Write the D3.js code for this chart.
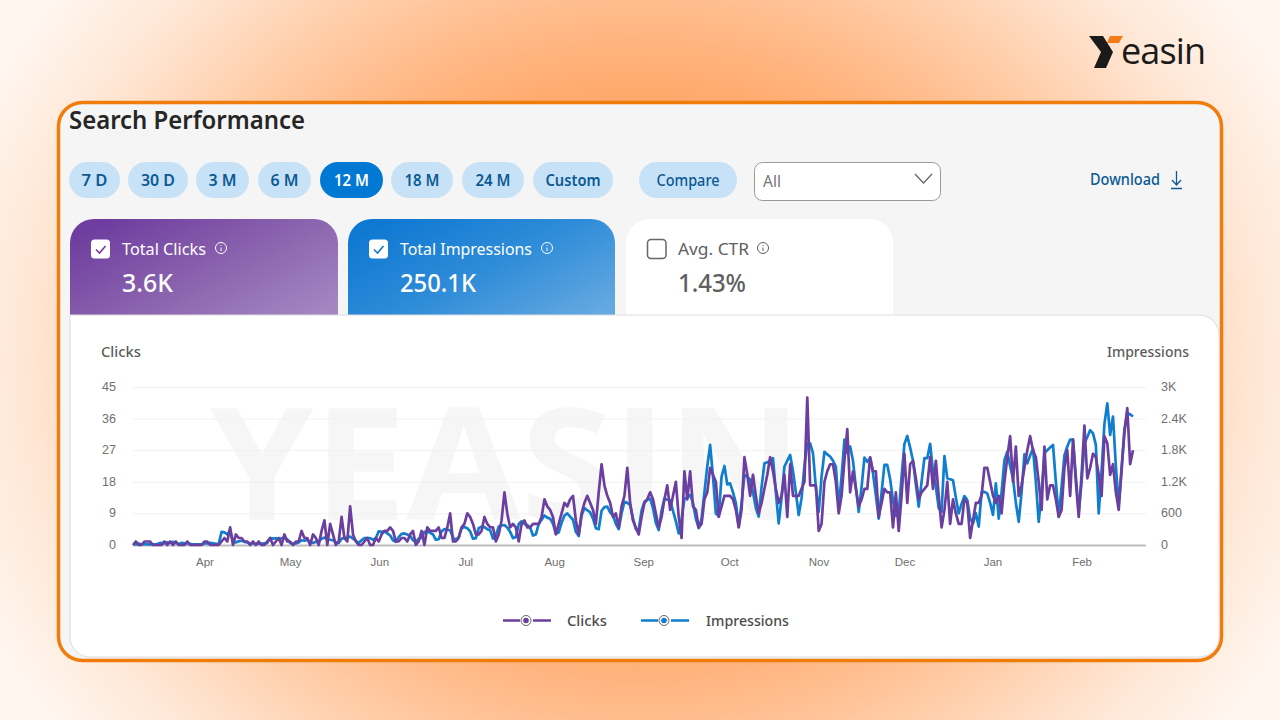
<!DOCTYPE html>
<html><head><meta charset="utf-8">
<script src="https://cdn.jsdelivr.net/npm/d3@7"></script>
<style>
html,body{margin:0;padding:0;width:1280px;height:720px;overflow:hidden;background:#fff}
svg{display:block}
text{font-family:"Noto Sans",sans-serif}
</style></head><body>
<script>
const monthLabels=["Apr","May","Jun","Jul","Aug","Sep","Oct","Nov","Dec","Jan","Feb"];
const monthPos=[25,55,86.2,116.3,147.4,178.6,208.7,239.9,270,300.8,332];
const clickTicks=[0,9,18,27,36,45];
const imprTicks=[0,600,1200,1800,2400,3000];
const imprTickLabels=["0","600","1.2K","1.8K","2.4K","3K"];
const rangeButtons=["7 D","30 D","3 M","6 M","12 M","18 M","24 M","Custom"];
const clicks=[
0,1,0,0,1,1,1,0,0,0, 0,1,0,1,0,1,0,0,0,1, 0,0,0,0,0,1,1,0,0,0, 0,1,2,1,5,0,3,2,2,1,
1,0,1,0,1,0,0,1,2,0, 1,2,0,3,1,1,0,1,1,4, 2,2,0,3,2,0,4,7,0,6, 3,0,1,8,2,1,11,3,1,0,
0,1,2,0,0,2,1,3,4,4, 5,4,1,1,2,2,1,3,4,0, 1,4,0,5,4,4,4,5,2,2, 5,9,1,1,2,5,6,9,8,6,
3,3,4,8,6,5,5,1,3,7, 15,9,5,6,5,1,6,7,5,5, 6,6,6,8,13,11,10,8,3,6, 9,12,11,13,14,7,3,9,12,14,
12,10,6,15,23,17,14,12,8,9, 5,11,14,22,12,7,5,3,8,12, 13,15,13,9,5,8,13,17,10,14, 18,8,2,21,13,21,11,10,5,6,
13,15,22,20,18,8,11,14,14,14, 13,10,5,10,25,20,14,20,14,9, 12,16,20,25,21,16,12,14,20,8, 23,14,14,14,16,18,42,17,17,17,
4,6,18,21,23,23,18,9,14,24, 33,15,21,16,11,13,16,16,25,21, 21,8,12,16,15,15,5,15,4,14, 26,12,23,24,19,13,15,16,17,25,
16,24,14,5,10,18,6,13,9,6, 6,13,12,2,7,12,12,14,22,22, 18,14,12,14,9,18,25,31,18,28, 14,17,22,27,31,27,25,18,10,28,
13,17,17,13,8,10,22,27,14,30, 18,8,20,34,19,22,26,25,20,14, 31,29,20,23,15,10,22,32,39,23, 27];
const impressions=[
20,10,30,10,20,10,10,10,10,30, 40,30,50,40,60,40,20,40,30,30, 20,10,10,10,10,30,30,40,30,20, 20,250,240,200,280,60,50,70,80,60,
50,30,30,20,30,20,30,40,130,120, 130,100,130,130,110,40,20,30,50,90, 80,100,50,40,60,60,120,140,110,100, 90,50,40,120,130,140,160,120,80,40,
90,130,130,130,100,130,260,250,260,220, 180,90,60,150,210,220,200,170,90,60, 120,140,250,260,230,200,100,110,260,300, 290,280,140,100,150,320,340,320,260,120,
130,320,350,340,300,280,120,180,350,370, 380,330,250,130,150,400,450,400,380,330, 180,200,400,480,560,520,500,400,220,240, 420,560,600,540,480,250,170,560,700,660,
620,500,320,300,650,720,730,620,560,400, 300,600,820,800,760,500,300,290,650,820, 860,880,700,420,285,650,880,860,850,650, 450,220,500,880,900,950,800,500,320,500,
1000,1500,1900,1300,600,550,1300,1500,1150,1170, 1000,800,350,800,1330,1300,1240,1000,700,540, 1100,1550,1570,1600,1650,1000,410,900,1490,1600, 1710,1400,1000,570,890,1500,1930,1930,1740,1100,
630,1300,1770,1720,1680,1600,1490,700,1300,2000, 1750,1870,1600,1100,630,1100,1660,1580,1650,1360, 950,500,1000,1520,1520,1250,850,550,600,1300, 1920,2070,1850,1600,1150,730,1200,1650,1650,1920,
1400,1110,700,630,1690,1270,1250,1230,900,600, 780,930,855,500,410,600,350,1000,1010,980, 800,570,1170,500,1000,1610,1770,1500,1260,800, 440,1000,1720,1550,1700,1830,1200,440,1000,1740,
1800,1850,1900,1200,540,1100,1700,1870,2000,2000, 1300,630,1200,1930,2050,2180,2120,1900,600,1400, 2300,2690,2090,2440,1500,760,1400,2200,2500,2480, 2440];

const svg=d3.select("body").append("svg").attr("width",1280).attr("height",720);
const defs=svg.append("defs");
function grad(id,stops,attrs){const g=defs.append(attrs.r?"radialGradient":"linearGradient").attr("id",id);
  Object.entries(attrs).forEach(([k,v])=>g.attr(k,v));
  stops.forEach(s=>g.append("stop").attr("offset",s[0]).attr("stop-color",s[1]));}
grad("bg",[[0,"#ff9040"],[0.43,"#ffa96c"],[0.58,"#ffbd8e"],[0.7,"#ffcfac"],[0.85,"#ffe6d4"],[1,"#fff6ef"]],{gradientUnits:"userSpaceOnUse",cx:0,cy:0,r:1,fx:0,fy:0,gradientTransform:"translate(640 360) scale(720 620)"});
grad("gp",[[0,"#6e3d9f"],[0.5,"#8a62ae"],[1,"#a586c2"]],{x1:"0%",y1:"20%",x2:"100%",y2:"90%"});
grad("gb",[[0,"#0e78d2"],[0.5,"#2f8cd8"],[1,"#65a9e1"]],{x1:"0%",y1:"20%",x2:"100%",y2:"90%"});

svg.append("rect").attr("width",1280).attr("height",720).attr("fill","url(#bg)");
// logo
svg.append("polygon").attr("points","1089,36 1103,36 1113,52 1106,68 1094,68 1101,52").attr("fill","#1a1a1a");
svg.append("polygon").attr("points","1110,36 1123,36 1119,43 1107,43").attr("fill","#f47b16");
svg.append("text").attr("x",1121).attr("y",64).attr("font-size",36).attr("font-weight",400).attr("textLength",85).attr("fill","#1a1a1a").style("font-family","'Open Sans'").text("easin");
// card
svg.append("rect").attr("x",58.5).attr("y",102.5).attr("width",1163).attr("height",558).attr("rx",24).attr("fill","#f5f5f5").attr("stroke","#f07c0c").attr("stroke-width",3.5);
svg.append("text").attr("x",69).attr("y",129).attr("font-size",25).attr("font-weight",600).attr("fill","#262626").attr("textLength",236).attr("lengthAdjust","spacingAndGlyphs").text("Search Performance");
// buttons
const btnX=[[69,120],[128,188],[196,249],[258,311],[320,383],[391,453],[462,524],[533,613]];
const btnTextW=[26,34,28,28,35,35,35,55];
rangeButtons.forEach((b,i)=>{const [a,e]=btnX[i],on=b==="12 M";
  svg.append("rect").attr("x",a).attr("y",162).attr("width",e-a).attr("height",36).attr("rx",18).attr("fill",on?"#0078d4":"#c7e2f7");
  svg.append("text").attr("x",(a+e)/2).attr("y",186).attr("text-anchor","middle").attr("font-size",15.5).attr("font-weight",600).attr("fill",on?"#fff":"#0b5a94").attr("textLength",btnTextW[i]).attr("lengthAdjust","spacingAndGlyphs").text(b);});
svg.append("rect").attr("x",639).attr("y",162).attr("width",98).attr("height",36).attr("rx",18).attr("fill","#c7e2f7");
svg.append("text").attr("x",688).attr("y",186).attr("text-anchor","middle").attr("font-size",15.500).attr("font-weight",500).attr("fill","#0b5a94").attr("textLength",63).attr("lengthAdjust","spacingAndGlyphs").text("Compare");
svg.append("rect").attr("x",754.5).attr("y",162.5).attr("width",186).attr("height",38).attr("rx",8).attr("fill","#fff").attr("stroke","#9a9a9a");
svg.append("text").attr("x",763).attr("y",187).attr("font-size",15.5).attr("fill","#777").text("All");
svg.append("path").attr("d","M915 174L923.500 183L932 174").attr("fill","none").attr("stroke","#666").attr("stroke-width",1.3);
svg.append("text").attr("x",1090).attr("y",185).attr("font-size",15.500).attr("font-weight",500).attr("fill","#0b5a94").attr("textLength",70).attr("lengthAdjust","spacingAndGlyphs").text("Download");
svg.append("path").attr("d","M1176.500 171V184M1172 180L1176.500 185L1181 180M1171 188.500H1182").attr("fill","none").attr("stroke","#0b5a94").attr("stroke-width",1.3);
// metric cards
function tab(x,w,fill){svg.append("path").attr("d",`M${x} 315V243a24 24 0 0 1 24-24H${x+w-24}a24 24 0 0 1 24 24V315Z`).attr("fill",fill);}
tab(70,268,"url(#gp)");tab(348,267,"url(#gb)");tab(626,267,"#fff");
const metricNames=["Total Clicks","Total Impressions","Avg. CTR"];
const metricValues=["3.6K","250.1K","1.43%"];
const nameW=[84,132,71],valueW=[51,76,68];
const mx=[91,369,647],ix=[221,547,763];
metricNames.forEach((n,i)=>{const col=i<2?"#fff":"#5f5f5f",x=mx[i];
  svg.append("rect").attr("x",i<2?x:x+.5).attr("y",239.5).attr("width",i<2?19:18.5).attr("height",19).attr("rx",3.5).attr("fill",i<2?"#fff":"none").attr("stroke",i<2?"none":"#666").attr("stroke-width",1.5);
  if(i<2)svg.append("path").attr("d",`M${x+5} ${249.5}l3.500 3.500l6-7`).attr("fill","none").attr("stroke",i?"#0e78d2":"#6e3d9f").attr("stroke-width",1.6);
  svg.append("text").attr("x",x+31).attr("y",254.500).attr("font-size",16.500).attr("fill",col).attr("textLength",nameW[i]).attr("lengthAdjust","spacingAndGlyphs").text(n);
  svg.append("text").attr("x",x+31).attr("y",291.500).attr("font-size",25).attr("font-weight",500).attr("fill",col).attr("textLength",valueW[i]).attr("lengthAdjust","spacingAndGlyphs").text(metricValues[i]);
  svg.append("circle").attr("cx",ix[i]).attr("cy",248).attr("r",5.500).attr("fill","none").attr("stroke",col).attr("stroke-width",1);
  svg.append("path").attr("d",`M${ix[i]} 247.500v3.500M${ix[i]} 245v1`).attr("stroke",col).attr("stroke-width",1);
});
// chart panel
svg.append("path").attr("d","M70 315H1199a20 20 0 0 1 20 20V637a20 20 0 0 1-20 20H90a20 20 0 0 1-20-20Z").attr("fill","#fff").attr("stroke","#dcdcdc");
svg.append("text").attr("x",101).attr("y",357).attr("font-size",14.500).attr("font-weight",500).attr("fill","#5c5c5c").attr("textLength",40).attr("lengthAdjust","spacingAndGlyphs").text("Clicks");
svg.append("text").attr("x",1189).attr("y",357).attr("text-anchor","end").attr("font-size",14.500).attr("font-weight",500).attr("fill","#5c5c5c").attr("textLength",82).attr("lengthAdjust","spacingAndGlyphs").text("Impressions");
svg.append("text").attr("x",506).attr("y",520).attr("text-anchor","middle").attr("font-size",157).attr("font-weight",700).attr("fill","#f6f6f7").attr("textLength",592).attr("lengthAdjust","spacingAndGlyphs").style("font-family","'Open Sans'").text("YEASIN");

const x=d3.scaleLinear().domain([0,350]).range([133,1133]);
const yL=d3.scaleLinear().domain([0,45]).range([545,387]);
const yR=d3.scaleLinear().domain([0,3000]).range([545,387]);
// gridlines
svg.append("g").selectAll("line").data(clickTicks.slice(1)).join("line")
  .attr("x1",133).attr("x2",1146).attr("y1",d=>yL(d)+.5).attr("y2",d=>yL(d)+.5).attr("stroke","#f1f1f1");
svg.append("line").attr("x1",133).attr("x2",1146).attr("y1",545.500).attr("y2",545.500).attr("stroke","#bdbdbd").attr("stroke-width",2);
function style(g,size){g.select(".domain").remove();g.selectAll(".tick line").remove();
  g.selectAll("text").style("font-family","'Liberation Sans',Arial,sans-serif").attr("font-size",size).attr("fill","#6f6f6f");}
svg.append("g").attr("transform","translate(116,-0.500)").call(d3.axisLeft(yL).tickValues(clickTicks).tickSize(0).tickPadding(0)).call(g=>style(g,12.500));
svg.append("g").attr("transform","translate(1161,-0.500)").call(d3.axisRight(yR).tickValues(imprTicks).tickSize(0).tickPadding(0).tickFormat((d,i)=>imprTickLabels[i])).call(g=>style(g,12.500));
svg.append("g").attr("transform","translate(0,557.500)").call(d3.axisBottom(x).tickValues(monthPos).tickSize(0).tickPadding(0).tickFormat((d,i)=>monthLabels[i])).call(g=>style(g,11.500));
// lines
const lineI=d3.line().x((d,i)=>x(i)).y(d=>yR(d)).curve(d3.curveLinear);
const lineC=d3.line().x((d,i)=>x(i)).y(d=>yL(d)).curve(d3.curveLinear);
svg.append("path").attr("d",lineI(impressions)).attr("fill","none").attr("stroke","#0f7ecf").attr("stroke-width",2.700).attr("stroke-linejoin","round");
svg.append("path").attr("d",lineC(clicks)).attr("fill","none").attr("stroke","#6b3fa0").attr("stroke-width",2.700).attr("stroke-linejoin","round");
// legend
[["Clicks",503,"#6b3fa0",40],["Impressions",641,"#0f7ecf",83]].forEach(([n,a,c,w])=>{
  svg.append("path").attr("d",`M${a} 620.500h17M${a+30} 620.500h18`).attr("stroke",c).attr("stroke-width",2.500);
  svg.append("circle").attr("cx",a+23).attr("cy",620.500).attr("r",5).attr("fill","#fff").attr("stroke","#666").attr("stroke-width",1);
  svg.append("circle").attr("cx",a+23).attr("cy",620.500).attr("r",2.800).attr("fill",c);
  svg.append("text").attr("x",a+(n==="Clicks"?64:65)).attr("y",626).attr("font-size",15).attr("font-weight",500).attr("fill","#4c4c4c").attr("textLength",w).attr("lengthAdjust","spacingAndGlyphs").text(n);
});
</script></body></html>
